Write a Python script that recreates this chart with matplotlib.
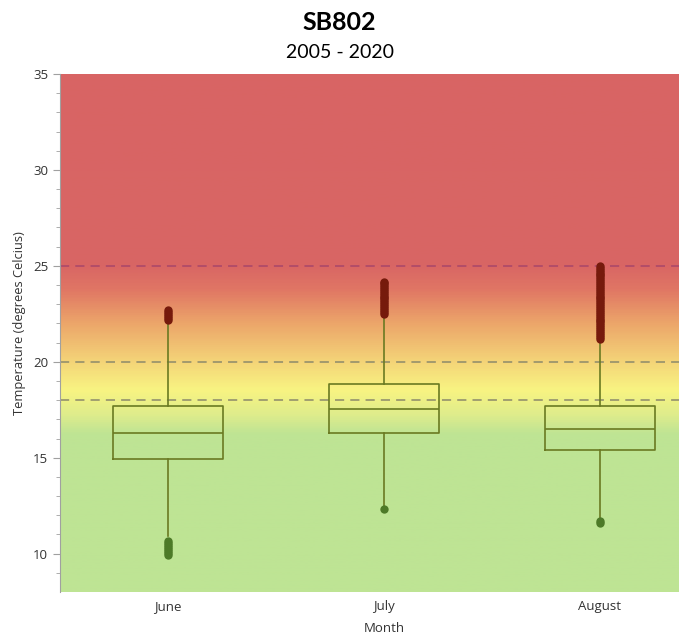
import matplotlib
matplotlib.use("Agg")
import matplotlib.pyplot as plt
import numpy as np
from matplotlib.colors import LinearSegmentedColormap

months = ["June", "July", "August"]
q1 = [14.95, 16.3, 15.4]
med = [16.3, 17.55, 16.5]
q3 = [17.7, 18.85, 17.68]
whislo = [10.9, 12.4, 11.7]
whishi = [22.1, 22.4, 21.1]
out_hi = [[22.2, 22.3, 22.4, 22.5, 22.6, 22.7],
          [22.5, 22.6, 22.7, 22.8, 22.9, 23.0, 23.1, 23.2, 23.3, 23.4, 23.5,
           23.6, 23.7, 23.8, 23.9, 24.0, 24.1, 24.15],
          [21.2, 21.3, 21.4, 21.5, 21.6, 21.7, 21.8, 21.9, 22.0, 22.1, 22.2,
           22.3, 22.4, 22.5, 22.6, 22.7, 22.8, 22.9, 23.0, 23.1, 23.2, 23.3,
           23.4, 23.5, 23.6, 23.7, 23.8, 23.9, 24.0, 24.1, 24.2, 24.3, 24.4,
           24.5, 24.6, 24.7, 24.8, 24.9, 25.0]]
out_lo = [[9.95, 10.05, 10.15, 10.25, 10.35, 10.45, 10.55, 10.65],
          [12.35],
          [11.6, 11.7]]
thresholds = [25, 20, 18]
threshold_colors = ["#a8466a", "#8c8a6a", "#8c8a6a"]

fig = plt.figure(figsize=(6.79, 6.42), dpi=100)
ax = fig.add_axes([60/679, 1 - 592/642, 648/679, (592-74)/642])
ymin, ymax = 8.0, 35.0
xmin, xmax = -0.5, 2.5

# background gradient
stops = [(8, (190, 228, 148)), (16.2, (190, 228, 148)), (17.2, (222, 236, 140)),
         (18.5, (248, 244, 130)), (20.0, (244, 212, 120)), (22.0, (236, 166, 106)),
         (23.8, (224, 118, 100)), (25.0, (217, 102, 100)), (35, (216, 100, 100))]
cmap = LinearSegmentedColormap.from_list(
    "bg", [((v - ymin) / (ymax - ymin), tuple(c / 255 for c in col)) for v, col in stops])
grad = np.linspace(ymin, ymax, 600).reshape(-1, 1)
ax.imshow(grad, extent=[xmin, xmax, ymin, ymax], origin="lower", aspect="auto",
          cmap=cmap, vmin=ymin, vmax=ymax, zorder=0)

for t, c in zip(thresholds, threshold_colors):
    ax.axhline(t, color=c, lw=1.1, ls=(0, (6, 4)), zorder=1)

stats = []
for i, m in enumerate(months):
    stats.append(dict(label=m, q1=q1[i], med=med[i], q3=q3[i],
                      whislo=whislo[i], whishi=whishi[i], fliers=[]))
boxc = "#6a7a22"
ax.bxp(stats, positions=range(len(months)), widths=0.505, showcaps=False,
       boxprops=dict(color=boxc, lw=1.2), medianprops=dict(color=boxc, lw=1.2),
       whiskerprops=dict(color=boxc, lw=1.2), zorder=3)
for i in range(len(months)):
    ax.plot([i] * len(out_hi[i]), out_hi[i], "o", ms=6.0, color="#761a0c", mec="none", zorder=4)
    ax.plot([i] * len(out_lo[i]), out_lo[i], "o", ms=6.0, color="#4d7a28", mec="none", zorder=4)

ax.set_xlim(xmin, xmax)
ax.set_ylim(ymin, ymax)
ax.set_yticks([10, 15, 20, 25, 30, 35])
ax.set_yticks(np.arange(9, 35, 1), minor=True)
ax.set_xticks(range(len(months)))
ax.set_xticklabels(months)
for s in ["top", "right", "bottom"]:
    ax.spines[s].set_visible(False)
ax.spines["left"].set_color("#a0a0a0")
ax.tick_params(axis="y", which="major", length=5, color="#a0a0a0", labelsize=9.5, labelcolor="#333333")
ax.tick_params(axis="y", which="minor", length=3, color="#a0a0a0")
ax.tick_params(axis="x", length=0, labelsize=9.5, labelcolor="#333333", pad=6)
for lab in ax.get_xticklabels() + ax.get_yticklabels():
    lab.set_family("Open Sans")
ax.set_xlabel("Month", family="Open Sans", fontsize=9.5, color="#333333", labelpad=6)
ax.set_ylabel("Temperature (degrees Celcius)", family="Open Sans", fontsize=9.3,
              color="#333333", labelpad=5)
ax.yaxis.set_label_coords(-34/648, 0.52)

fig.text(0.5, 1 - 22/642, "SB802", ha="center", va="center", fontsize=18,
         fontweight="bold", family="Lato")
fig.text(0.5, 1 - 52/642, "2005 - 2020", ha="center", va="center", fontsize=14, family="Lato")

fig.savefig("out.png", dpi=100)
